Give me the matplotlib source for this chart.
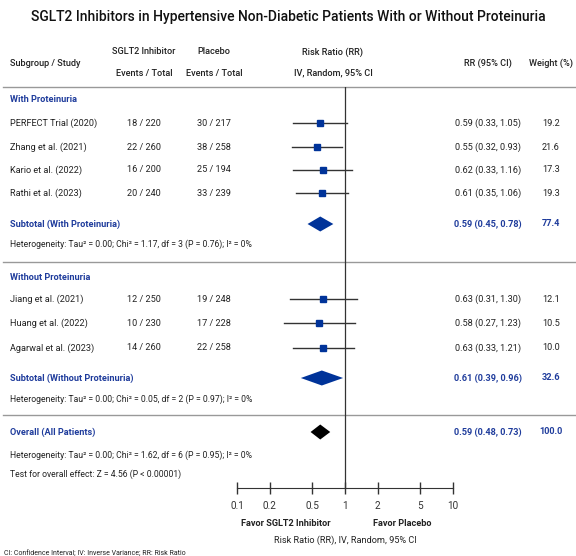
import numpy as np
import matplotlib
matplotlib.use("Agg")
import matplotlib.pyplot as plt
from matplotlib.patches import Polygon

plt.rcParams['font.family'] = ['Roboto', 'DejaVu Sans']

# ---- data ----
studies_with = ["PERFECT Trial (2020)", "Zhang et al. (2021)", "Kario et al. (2022)", "Rathi et al. (2023)"]
sglt2_ev_with = [18, 22, 16, 20]
sglt2_n_with = [220, 260, 200, 240]
plac_ev_with = [30, 38, 25, 33]
plac_n_with = [217, 258, 194, 239]
rr_with = [0.59, 0.55, 0.62, 0.61]
lo_with = [0.33, 0.32, 0.33, 0.35]
hi_with = [1.05, 0.93, 1.16, 1.06]
wt_with = [19.2, 21.6, 17.3, 19.3]

studies_without = ["Jiang et al. (2021)", "Huang et al. (2022)", "Agarwal et al. (2023)"]
sglt2_ev_without = [12, 10, 14]
sglt2_n_without = [250, 230, 260]
plac_ev_without = [19, 17, 22]
plac_n_without = [248, 228, 258]
rr_without = [0.63, 0.58, 0.63]
lo_without = [0.31, 0.27, 0.33]
hi_without = [1.30, 1.23, 1.21]
wt_without = [12.1, 10.5, 10.0]

pooled_labels = ["Subtotal (With Proteinuria)", "Subtotal (Without Proteinuria)", "Overall (All Patients)"]
pooled_rr = [0.59, 0.61, 0.59]
pooled_lo = [0.45, 0.39, 0.48]
pooled_hi = [0.78, 0.96, 0.73]
pooled_wt = [77.4, 32.6, 100.0]

het_text = [
    "Heterogeneity: Tau\u00b2 = 0.00; Chi\u00b2 = 1.17, df = 3 (P = 0.76); I\u00b2 = 0%",
    "Heterogeneity: Tau\u00b2 = 0.00; Chi\u00b2 = 0.05, df = 2 (P = 0.97); I\u00b2 = 0%",
    "Heterogeneity: Tau\u00b2 = 0.00; Chi\u00b2 = 1.62, df = 6 (P = 0.95); I\u00b2 = 0%",
]
overall_test = "Test for overall effect: Z = 4.56 (P < 0.00001)"
ticks = [0.1, 0.2, 0.5, 1, 2, 5, 10]
tick_labels = ["0.1", "0.2", "0.5", "1", "2", "5", "10"]

# ---- layout (pixel rows) ----
W, H = 576, 556
y_with = [123, 147, 170, 193]
y_without = [299, 323, 348]
y_pooled = [224, 378, 432]
y_het = [244, 399, 455]
axis_y = 488
top_y = 87

blue = "#1f3c9c"
mblue = "#003399"
dark = "#222222"
fs = 6.6

fig = plt.figure(figsize=(W / 100, H / 100), dpi=100)
bg = fig.add_axes([0, 0, 1, 1])
bg.set_xlim(0, W)
bg.set_ylim(H, 0)
bg.axis("off")

fa = fig.add_axes([237 / W, (H - axis_y) / H, 216 / W, (axis_y - top_y) / H])
fa.set_xscale("log")
fa.set_xlim(0.1, 10)
fa.set_ylim(axis_y, top_y)
fa.patch.set_alpha(0)
for s in ["left", "right", "top"]:
    fa.spines[s].set_visible(False)
fa.spines["bottom"].set_color("#333333")
fa.set_yticks([])
fa.set_xticks(ticks)
fa.set_xticklabels(tick_labels, fontsize=fs + 0.6)
fa.xaxis.set_minor_locator(matplotlib.ticker.NullLocator())
fa.tick_params(axis="x", direction="inout", length=9, width=1, pad=5, colors="#333333")
fa.axvline(1, color="#333333", lw=0.9)

# title + header
bg.text(W / 2, 17, "SGLT2 Inhibitors in Hypertensive Non-Diabetic Patients With or Without Proteinuria",
        ha="center", va="center", fontsize=10, color="#111111", fontweight="medium")
hd = dict(va="center", fontsize=fs, color=dark, fontweight="medium")
bg.text(10, 63, "Subgroup / Study", ha="left", **hd)
bg.text(144, 52, "SGLT2 Inhibitor", ha="center", **hd)
bg.text(144, 73, "Events / Total", ha="center", **hd)
bg.text(214, 52, "Placebo", ha="center", **hd)
bg.text(214, 73, "Events / Total", ha="center", **hd)
bg.text(333, 52, "Risk Ratio (RR)", ha="center", **hd)
bg.text(333, 73, "IV, Random, 95% CI", ha="center", **hd)
bg.text(488, 63, "RR (95% CI)", ha="center", **hd)
bg.text(551, 63, "Weight (%)", ha="center", **hd)

for yl in [top_y, 262, 415]:
    bg.plot([3, W], [yl, yl], color="#999999", lw=1)

# subgroup headings
bg.text(10, 99, "With Proteinuria", ha="left", va="center", fontsize=fs, color=blue, fontweight="bold")
bg.text(10, 277, "Without Proteinuria", ha="left", va="center", fontsize=fs, color=blue, fontweight="bold")


def draw_group(names, ev1, n1, ev2, n2, rr, lo, hi, wt, ys):
    for i, y in enumerate(ys):
        bg.text(10, y, names[i], ha="left", va="center", fontsize=fs, color=dark)
        bg.text(144, y, f"{ev1[i]} / {n1[i]}", ha="center", va="center", fontsize=fs, color=dark)
        bg.text(214, y, f"{ev2[i]} / {n2[i]}", ha="center", va="center", fontsize=fs, color=dark)
        bg.text(488, y, f"{rr[i]:.2f} ({lo[i]:.2f}, {hi[i]:.2f})", ha="center", va="center", fontsize=fs, color=dark)
        bg.text(551, y, f"{wt[i]:.1f}", ha="center", va="center", fontsize=fs, color=dark)
        fa.plot([lo[i], hi[i]], [y, y], color="#333333", lw=1)
        fa.plot(rr[i], y, marker="s", ms=5, color=mblue, mec=mblue)


draw_group(studies_with, sglt2_ev_with, sglt2_n_with, plac_ev_with, plac_n_with,
           rr_with, lo_with, hi_with, wt_with, y_with)
draw_group(studies_without, sglt2_ev_without, sglt2_n_without, plac_ev_without, plac_n_without,
           rr_without, lo_without, hi_without, wt_without, y_without)

for i, y in enumerate(y_pooled):
    bg.text(10, y, pooled_labels[i], ha="left", va="center", fontsize=fs, color=blue, fontweight="bold")
    bg.text(488, y, f"{pooled_rr[i]:.2f} ({pooled_lo[i]:.2f}, {pooled_hi[i]:.2f})",
            ha="center", va="center", fontsize=fs, color=blue, fontweight="bold")
    bg.text(551, y, f"{pooled_wt[i]:.1f}", ha="center", va="center", fontsize=fs, color=blue, fontweight="bold")
    col = "black" if i == 2 else mblue
    dh = 7.5
    fa.add_patch(Polygon([(pooled_lo[i], y), (pooled_rr[i], y - dh), (pooled_hi[i], y), (pooled_rr[i], y + dh)],
                         closed=True, color=col, lw=0))

for i, y in enumerate(y_het):
    bg.text(10, y, het_text[i], ha="left", va="center", fontsize=fs - 0.4, color=dark)
bg.text(10, 474, overall_test, ha="left", va="center", fontsize=fs - 0.4, color=dark)

bg.text(286, 523, "Favor SGLT2 Inhibitor", ha="center", va="center", fontsize=fs, color=dark, fontweight="bold")
bg.text(402, 523, "Favor Placebo", ha="center", va="center", fontsize=fs, color=dark, fontweight="bold")
bg.text(345, 540, "Risk Ratio (RR), IV, Random, 95% CI", ha="center", va="center", fontsize=fs, color=dark)
bg.text(4, 553, "CI: Confidence Interval; IV: Inverse Variance; RR: Risk Ratio",
        ha="left", va="center", fontsize=5, color=dark)

fig.savefig("out.png", dpi=100)
